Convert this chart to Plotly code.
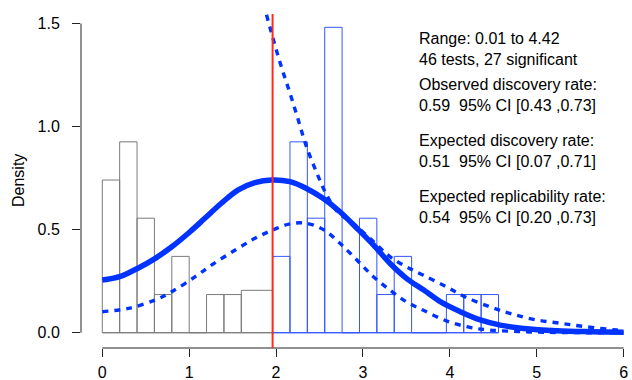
import plotly.graph_objects as go

# ---- data ----
z_crit = 1.96
n_sig = 27

ns_edges = [0.0, 0.2, 0.4, 0.6, 0.8, 1.0, 1.2, 1.4, 1.6, 1.96]
ns_counts = [4, 5, 3, 1, 2, 0, 1, 1, 2]

sig_edges = [1.96, 2.16, 2.36, 2.56, 2.76, 2.96, 3.16, 3.36, 3.56, 3.76, 3.96, 4.16, 4.36, 4.56]
sig_counts = [2, 5, 3, 8, 0, 3, 1, 2, 0, 0, 1, 1, 1]

fit_x = [0.0, 0.20, 0.41, 0.61, 0.80, 1.01, 1.18, 1.37, 1.565, 1.757, 1.95, 2.16, 2.35, 2.54,
         2.735, 2.93, 3.12, 3.31, 3.50, 3.70, 3.90, 4.12, 4.35, 4.58, 4.85, 5.23, 5.61, 6.0]
fit_y = [0.256, 0.272, 0.313, 0.361, 0.417, 0.490, 0.555, 0.628, 0.693, 0.728, 0.741, 0.733, 0.700, 0.652,
         0.587, 0.507, 0.426, 0.337, 0.264, 0.207, 0.148, 0.102, 0.062, 0.037, 0.021, 0.010, 0.005, 0.002]

lo_x = [0.0, 0.30, 0.61, 0.80, 1.07, 1.26, 1.53, 1.757, 1.96, 2.16, 2.35, 2.55, 2.735, 2.93,
        3.12, 3.31, 3.50, 3.69, 3.96, 4.23, 4.46, 4.84, 5.3, 6.0]
lo_y = [0.102, 0.118, 0.159, 0.199, 0.272, 0.329, 0.401, 0.458, 0.498, 0.528, 0.531, 0.499, 0.434, 0.353,
        0.272, 0.207, 0.150, 0.110, 0.058, 0.026, 0.013, 0.005, 0.001, 0.0]

hi_x = [1.89, 1.97, 2.06, 2.16, 2.255, 2.35, 2.47, 2.58, 2.70, 2.82, 2.93, 3.12, 3.31, 3.50,
        3.69, 3.96, 4.17, 4.46, 4.69, 4.96, 5.27, 5.57, 5.92, 6.0]
hi_y = [1.542, 1.42, 1.291, 1.162, 1.033, 0.903, 0.774, 0.670, 0.590, 0.550, 0.515, 0.442, 0.369, 0.320,
        0.280, 0.223, 0.175, 0.126, 0.094, 0.065, 0.046, 0.029, 0.013, 0.010]

info_lines = [
    ("Range: 0.01 to 4.42", 38),
    ("46 tests, 27 significant", 59),
    ("Observed discovery rate:", 85),
    ("0.59  95% CI [0.43 ,0.73]", 105),
    ("Expected discovery rate:", 140),
    ("0.51  95% CI [0.07 ,0.71]", 161),
    ("Expected replicability rate:", 196),
    ("0.54  95% CI [0.20 ,0.73]", 217),
]

x_ticks = [0, 1, 2, 3, 4, 5, 6]
y_ticks = [0.0, 0.5, 1.0, 1.5]
y_tick_text = ["0.0", "0.5", "1.0", "1.5"]

# ---- figure ----
W, H = 632, 380
ML, MR, MT, MB = 81, 1, 14, 32
FONT = "Liberation Sans, Arial, sans-serif"
FS = 16
BLUE = "#0033ff"


def bars(edges, counts, color):
    centers = [(a + b) / 2 for a, b in zip(edges[:-1], edges[1:])]
    widths = [b - a for a, b in zip(edges[:-1], edges[1:])]
    dens = [c / (n_sig * w) for c, w in zip(counts, widths)]
    return go.Bar(x=centers, y=dens, width=widths, base=0,
                  marker=dict(color="rgba(255,255,255,0)", line=dict(color=color, width=1)),
                  showlegend=False, hoverinfo="skip")


fig = go.Figure()
fig.add_trace(bars(ns_edges, ns_counts, "#7a7a7a"))
fig.add_trace(bars(sig_edges, sig_counts, "#3355ff"))

dash_style = dict(color=BLUE, width=3.4, dash="6px,6px", shape="spline")
fig.add_trace(go.Scatter(x=lo_x, y=lo_y, mode="lines", line=dash_style, showlegend=False, hoverinfo="skip"))
fig.add_trace(go.Scatter(x=hi_x, y=hi_y, mode="lines", line=dash_style, showlegend=False, hoverinfo="skip"))
fig.add_trace(go.Scatter(x=fit_x, y=fit_y, mode="lines", line=dict(color=BLUE, width=5.5, shape="spline"),
                         showlegend=False, hoverinfo="skip"))

shapes = [
    dict(type="line", x0=ns_edges[0], x1=ns_edges[-1], y0=0, y1=0, line=dict(color="#7a7a7a", width=1), layer="below"),
    dict(type="line", x0=sig_edges[0], x1=sig_edges[-1], y0=0, y1=0, line=dict(color="#3355ff", width=1), layer="below"),
    dict(type="line", xref="x", yref="paper", x0=x_ticks[0], x1=x_ticks[-1], y0=0, y1=0, line=dict(color="#222", width=1)),
    dict(type="line", xref="paper", yref="y", x0=0, x1=0, y0=y_ticks[0], y1=y_ticks[-1], line=dict(color="#222", width=1)),
    dict(type="line", xref="x", yref="paper", x0=z_crit, x1=z_crit, y0=0, y1=1, line=dict(color="#ff2a1a", width=2), layer="above"),
]

annotations = []
for txt, ypx in info_lines:
    annotations.append(dict(text=txt, xref="paper", yref="paper",
                            x=(417 - ML) / (W - ML - MR), y=1 - (ypx - MT) / (H - MT - MB),
                            xanchor="left", yanchor="middle", showarrow=False,
                            font=dict(family=FONT, size=FS, color="#000")))
annotations.append(dict(text="Density", xref="paper", yref="paper",
                        x=(18 - ML) / (W - ML - MR), y=0.5, textangle=-90,
                        xanchor="center", yanchor="middle", showarrow=False,
                        font=dict(family=FONT, size=FS, color="#000")))

fig.update_layout(
    width=W, height=H,
    margin=dict(l=ML, r=MR, t=MT, b=MB, pad=0),
    plot_bgcolor="white", paper_bgcolor="white",
    barmode="overlay", bargap=0,
    shapes=shapes, annotations=annotations,
    font=dict(family=FONT, size=16, color="#000"),
    xaxis=dict(range=[-0.245, 6.085], showgrid=False, zeroline=False, showline=False, automargin=False,
               tickmode="array", tickvals=x_ticks, ticktext=[str(t) for t in x_ticks],
               ticks="outside", ticklen=8, tickcolor="#222", tickwidth=1, ticklabelstandoff=2),
    yaxis=dict(range=[-0.074, 1.546], showgrid=False, zeroline=False, showline=False, automargin=False,
               tickmode="array", tickvals=y_ticks, ticktext=y_tick_text,
               ticks="outside", ticklen=8, tickcolor="#222", tickwidth=1, ticklabelstandoff=9),
)

fig.write_html("out.html", config={"displayModeBar": False, "staticPlot": True},
               post_script="document.body.style.margin='0px';document.body.style.overflow='hidden';")
